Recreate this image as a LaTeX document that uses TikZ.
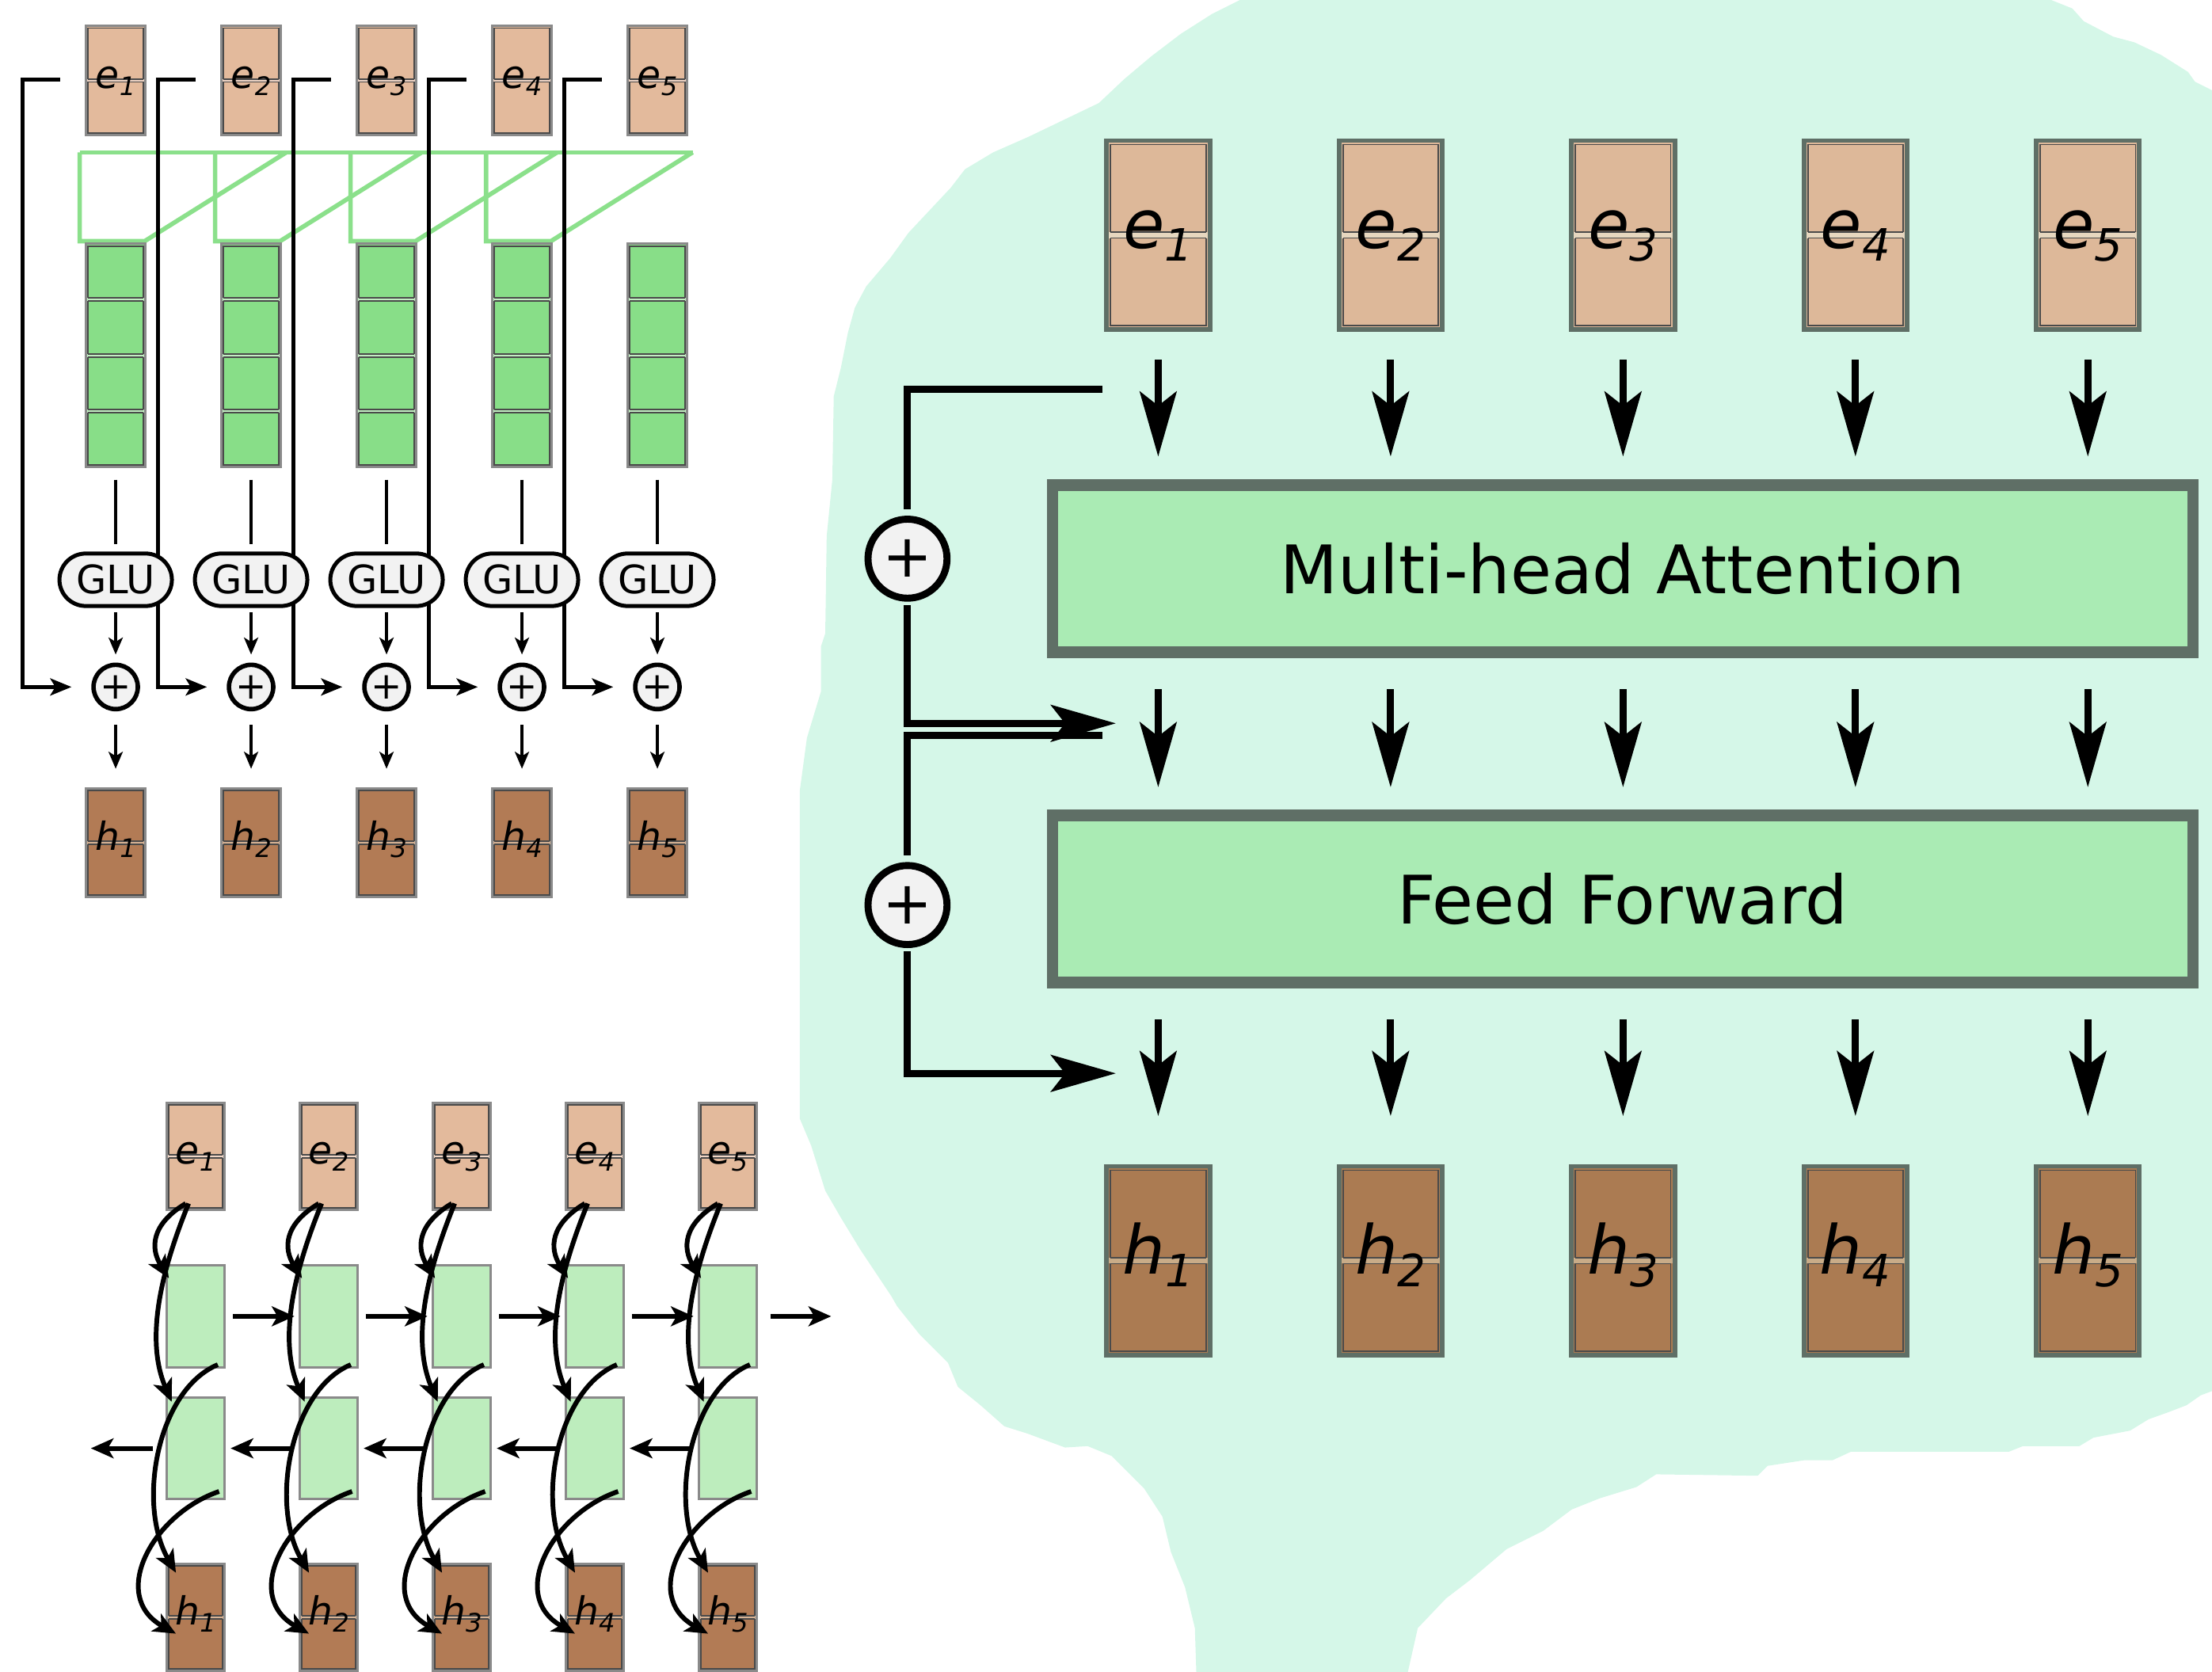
\documentclass[tikz,border=0pt]{standalone}
\usepackage{fontspec}
\setmainfont{DejaVu Sans}[ItalicFont={DejaVu Sans Oblique}]
\usepackage{graphicx}
\usetikzlibrary{positioning,arrows.meta,calc}
\pgfdeclarelayer{blob}
\pgfdeclarelayer{wires}
\pgfsetlayers{blob,wires,main}

\definecolor{blobmint}{HTML}{D5F7E8}
\definecolor{embtan}{HTML}{E3BA9C}
\definecolor{embband}{HTML}{F1D6C6}
\definecolor{hidbrown}{HTML}{B27B55}
\definecolor{hidband}{HTML}{D6B294}
\definecolor{convgreen}{HTML}{88DE88}
\definecolor{convband}{HTML}{C2EEC2}
\definecolor{kerngreen}{HTML}{8BE08B}
\definecolor{rnngreen}{HTML}{BDEDBD}
\definecolor{boxgray}{HTML}{8A8A8A}
\definecolor{gluwhite}{HTML}{F2F2F2}
\definecolor{layergreen}{HTML}{AAEBB4}
\definecolor{layerrim}{HTML}{5F6F66}
\definecolor{bigtan}{HTML}{DDB899}
\definecolor{bigtanband}{HTML}{E7D7BF}
\definecolor{bigbrown}{HTML}{AB7B52}
\definecolor{bigbrownband}{HTML}{C9AC88}
\definecolor{cellline}{HTML}{4A4A4A}

\newcommand\vgapval{1.5}
\newcommand\vbandval{1.1}
\newcommand\vlab[2]{\textit{#1\raisebox{-0.18em}{\scalebox{0.66}{#2}}}}

\tikzset{
  vgap/.code={\def\vgapval{#1}},
  vband/.code={\def\vbandval{#1}},
  band/.code={\colorlet{bandcol}{#1}},
  cells/.style={path picture={
    \draw[cellline, line width=0.3pt]
      ([shift={(\vgapval,\vgapval)}]path picture bounding box.north west) rectangle
      ([shift={(-\vgapval,-\vgapval)}]path picture bounding box.south east);
    \foreach \k in {1,...,#1}{
      \pgfmathsetmacro\frc{\k/(#1+1)}
      \coordinate (bl) at ($(path picture bounding box.north west)!\frc!(path picture bounding box.south west)$);
      \coordinate (br) at ($(path picture bounding box.north east)!\frc!(path picture bounding box.south east)$);
      \fill[bandcol] ([shift={(0,-\vbandval)}]bl) rectangle ([shift={(0,\vbandval)}]br);
      \draw[cellline, line width=0.3pt]
        ([shift={(\vgapval,-\vbandval)}]bl) -- ([shift={(-\vgapval,-\vbandval)}]br)
        ([shift={(\vgapval,\vbandval)}]bl) -- ([shift={(-\vgapval,\vbandval)}]br);
    }}}
}

\tikzstyle{vbox}=[rectangle, inner sep=0pt, line width=0.5pt, draw=boxgray]
\tikzstyle{ebox}=[vbox, fill=embtan, band=embband, cells=1, minimum width=4.22mm,
                  minimum height=7.72mm, font=\fontsize{7.8}{9}\selectfont,
                  text height=4.7pt, text depth=1.55pt]
\tikzstyle{hbox}=[ebox, fill=hidbrown, band=hidband]
\tikzstyle{convcol}=[vbox, fill=convgreen, band=convband, cells=3, minimum width=4.22mm,
                     minimum height=15.82mm]
\tikzstyle{rnnbox}=[vbox, fill=rnngreen, minimum width=4.08mm, minimum height=7.22mm]
\tikzstyle{glubox}=[rectangle, rounded corners=1.86mm, draw=black, fill=gluwhite,
                    line width=0.8pt, minimum width=7.97mm, minimum height=3.72mm,
                    inner sep=0pt, font=\fontsize{7.9}{9}\selectfont]
\tikzstyle{plusc}=[circle, draw=black, fill=gluwhite, line width=0.9pt, minimum size=3.14mm,
                   inner sep=0pt, font=\fontsize{7.5}{9}\selectfont]
\tikzstyle{bigebox}=[vbox, draw=layerrim, line width=0.95pt, fill=bigtan, band=bigtanband,
                     cells=1, vgap=2.8, vband=2.2, minimum width=7.32mm, minimum height=13.37mm,
                     font=\fontsize{13.6}{16}\selectfont, text height=8.2pt, text depth=2.7pt]
\tikzstyle{bighbox}=[bigebox, fill=bigbrown, band=bigbrownband]
\tikzstyle{layerbox}=[rectangle, draw=layerrim, fill=layergreen, line width=2.33pt,
                      minimum width=80.85mm, minimum height=11.84mm, inner sep=0pt,
                      font=\fontsize{13.5}{16}\selectfont]
\tikzstyle{bigplus}=[circle, draw=black, fill=gluwhite, line width=1.42pt, minimum size=5.6mm,
                     inner sep=0pt, font=\fontsize{12}{14}\selectfont]
\tikzstyle{kernline}=[draw=kerngreen, line width=0.9pt]
\tikzstyle{skipline}=[draw=black, line width=0.9pt]
\tikzstyle{skiparr}=[skipline, -{Stealth[length=1.5mm,width=1.2mm,inset=0.35mm]}]
\tikzstyle{smallline}=[draw=black, line width=0.75pt]
\tikzstyle{smallarr}=[smallline, -{Stealth[length=1.2mm,width=1mm,inset=0.3mm]}]
\tikzstyle{rnnarr}=[draw=black, line width=0.95pt, -{Stealth[length=1.6mm,width=1.4mm,inset=0.4mm]}]
\tikzstyle{bigline}=[draw=black, line width=1.45pt]
\tikzstyle{bigarr}=[bigline, -{Stealth[length=4.6mm,width=2.6mm,inset=1mm]}]

\begin{document}
\begin{tikzpicture}[x=0.1mm, y=-0.1mm]
\useasboundingbox (0,0) rectangle (1568,1185);

% mint background of the transformer block
\begin{pgfonlayer}{blob}
\fill[blobmint] (882,-20) -- (1454,-20) -- (1454,0) -- (1469,6) -- (1477,15) -- (1498,26)
  -- (1513,30) -- (1532,39) -- (1551,51) -- (1556,58) -- (1568,64) -- (1590,68) -- (1590,984)
  -- (1568,986) -- (1560,989) -- (1550,996) -- (1537,1001) -- (1523,1006) -- (1510,1014)
  -- (1484,1019) -- (1474,1025) -- (1434,1025) -- (1424,1029) -- (1312,1029) -- (1299,1035)
  -- (1279,1035) -- (1253,1039) -- (1246,1046) -- (1174,1045) -- (1160,1054) -- (1134,1062)
  -- (1114,1070) -- (1094,1085) -- (1068,1098) -- (1042,1120) -- (1025,1133) -- (1005,1154)
  -- (998,1185) -- (994,1210) -- (850,1210) -- (848,1185) -- (847,1154) -- (840,1125)
  -- (830,1100) -- (824,1075) -- (811,1055) -- (788,1032) -- (771,1025) -- (755,1026)
  -- (728,1016) -- (712,1011) -- (695,996) -- (679,983) -- (672,966) -- (652,946)
  -- (636,926) -- (632,919) -- (610,886) -- (596,863) -- (585,844) -- (575,812) -- (567,793)
  -- (567,560) -- (572,523) -- (582,490) -- (582,458) -- (585,449) -- (586,380) -- (590,340)
  -- (591,281) -- (596,261) -- (601,236) -- (606,218) -- (614,203) -- (631,183) -- (644,165)
  -- (674,133) -- (684,120) -- (704,108) -- (729,97) -- (754,85) -- (779,73) -- (797,56)
  -- (816,40) -- (837,24) -- (859,10) -- (879,0) -- cycle;
\end{pgfonlayer}

% convolutional encoder
\foreach \i in {1,...,5}{
  \pgfmathsetmacro\cx{82+96*(\i-1)}
  \node (E\i) [ebox] at (\cx,57) {\vlab{e}{\i}};
  \node (K\i) [convcol, below=7.55mm of E\i] {};
  \node (G\i) [glubox, below=5.9mm of K\i] {GLU};
  \node (P\i) [plusc, below=3.87mm of G\i] {+};
  \node (H\i) [hbox, below=5.37mm of P\i] {\vlab{h}{\i}};
  \draw[smallline, shorten <=0.8mm, shorten >=0.5mm] (K\i) -- (G\i);
  \draw[smallarr, shorten <=0.3mm, shorten >=0.57mm] (G\i) -- (P\i);
  \draw[smallarr, shorten <=0.97mm, shorten >=1.3mm] (P\i) -- (H\i);
}
\begin{pgfonlayer}{wires}
\foreach \i in {1,...,4}{
  \draw[kernline] ($(K\i.north west)+(-3.5,-64)$) -- ($(K\i.north west)+(-3.5,-1)$)
    -- ($(K\i.north east)+(-1.5,-1)$) -- ($(K\i.north east)+(99,-64)$);
}
\draw[kernline] ($(K1.north west)+(-3.5,-64)$) -- ($(K4.north east)+(99,-64)$);
\foreach \i in {1,...,5}{
  \coordinate (S\i) at ($(E\i.west)+(-17.5,-0.5)$);
  \draw[skiparr, shorten >=1.4mm] (S\i) -- ++(-26.5,0) |- (P\i);
}
\end{pgfonlayer}

% bidirectional recurrent encoder
\foreach \i in {1,...,5}{
  \pgfmathsetmacro\cx{138.7+94.3*(\i-1)}
  \node (BE\i) [ebox, minimum width=4.08mm, minimum height=7.59mm] at (\cx,819.5) {\vlab{e}{\i}};
  \node (FW\i) [rnnbox, below=3.77mm of BE\i] {};
  \node (BW\i) [rnnbox, below=1.96mm of FW\i] {};
  \node (BH\i) [hbox, minimum width=4.08mm, minimum height=7.6mm, below=4.4mm of BW\i] {\vlab{h}{\i}};
}
\foreach \i/\j in {1/2,2/3,3/4,4/5}{
  \draw[rnnarr, shorten <=0.5mm, shorten >=0.3mm] (FW\i) -- (FW\j);
  \draw[rnnarr, shorten <=0.4mm, shorten >=0.35mm] (BW\j) -- (BW\i);
}
\coordinate (FWOUT) at ($(FW5.east)+(52,0)$);
\coordinate (BWOUT) at ($(BW1.west)+(-53,0)$);
\draw[rnnarr, shorten <=0.9mm] (FW5) -- (FWOUT);
\draw[rnnarr, shorten <=0.9mm] (BW1) -- (BWOUT);
\foreach \i in {1,...,5}{
  \draw[rnnarr] ($(BE\i.south)+(-7,-5.3)$) .. controls ($(BE\i.south)+(-32,9.7)$)
    and ($(FW\i.north)+(-32,-11)$) .. ($(FW\i.north)+(-19,10)$);
  \draw[rnnarr] ($(BE\i.south)+(-5,-5.3)$) .. controls ($(FW\i.north)+(-20,-6)$)
    and ($(FW\i.north)+(-38,49)$) .. ($(BW\i.north)+(-17,4)$);
  \draw[rnnarr] ($(FW\i.south)+(15.7,-2.7)$) .. controls ($(FW\i.south)+(-27,15)$)
    and ($(BW\i.south)+(-42,2.4)$) .. ($(BH\i.north)+(-14,7.2)$);
  \draw[rnnarr] ($(BW\i.south)+(16.6,-6.4)$) .. controls ($(BW\i.south)+(-30,9.4)$)
    and ($(BH\i.north)+(-62,23.4)$) .. ($(BH\i.north)+(-14,50.4)$);
}

% transformer block
\node (MHA) [layerbox] at (1150.25,403.2) {Multi-head Attention};
\node (FF) [layerbox, below=10.75mm of MHA] {Feed Forward};
\foreach \i in {1,...,5}{
  \pgfmathsetmacro\cx{821+164.75*(\i-1)}
  \node (RE\i) [bigebox] at (\cx,166.5) {\vlab{e}{\i}};
  \node (RH\i) [bighbox] at (\cx,893.5) {\vlab{h}{\i}};
  \draw[bigarr, shorten <=2mm, shorten >=1.63mm] (RE\i.south) -- (RE\i.south |- MHA.north);
  \draw[bigarr, shorten <=2.2mm, shorten >=1.6mm] (MHA.south -| RE\i) -- (FF.north -| RE\i);
  \draw[bigarr, shorten <=2.2mm, shorten >=3.39mm] (FF.south -| RH\i) -- (RH\i.north);
}
\node (PA) [bigplus] at (643.3,396) {+};
\node (PB) [bigplus] at (643.3,641.5) {+};
\coordinate (SA) at (781.3,275.7);
\coordinate (TA) at (791,512.7);
\coordinate (SB) at (781.3,521.4);
\coordinate (TB) at (791,760.8);
\draw[bigline, shorten >=0.45mm] (SA) -| (PA);
\draw[bigarr, shorten <=0.25mm] (PA) |- (TA);
\draw[bigline, shorten >=0.45mm] (SB) -| (PB);
\draw[bigarr, shorten <=0.25mm] (PB) |- (TB);

\end{tikzpicture}
\end{document}
